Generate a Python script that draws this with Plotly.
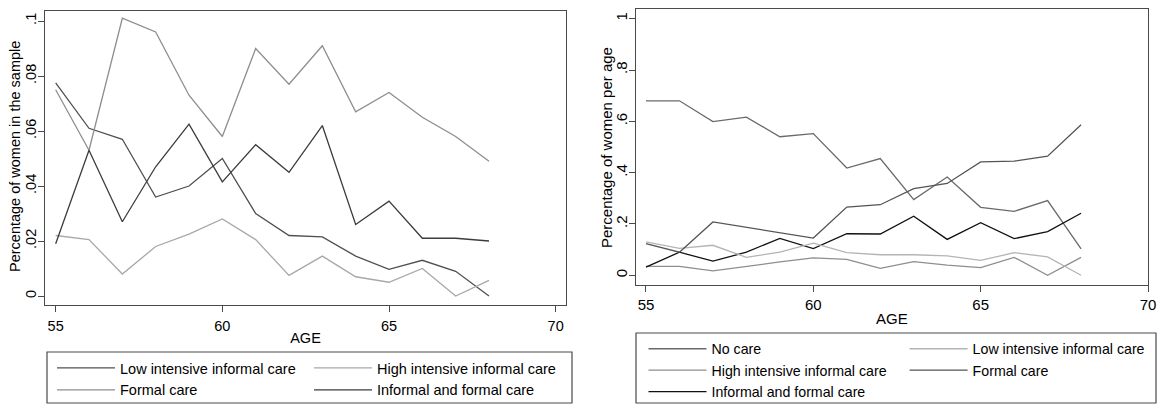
import plotly.graph_objects as go

# ---------------- data ----------------
ages = [55, 56, 57, 58, 59, 60, 61, 62, 63, 64, 65, 66, 67, 68]

# Left panel: percentage of women in the sample
left_low_informal = [0.0775, 0.061, 0.057, 0.036, 0.040, 0.050, 0.030, 0.022, 0.0215, 0.0145, 0.0097, 0.013, 0.009, 0.0]
left_high_informal = [0.022, 0.0205, 0.008, 0.018, 0.0225, 0.028, 0.0205, 0.0075, 0.0145, 0.007, 0.005, 0.010, 0.0, 0.0057]
left_formal = [0.075, 0.053, 0.101, 0.096, 0.073, 0.058, 0.090, 0.077, 0.091, 0.067, 0.074, 0.065, 0.058, 0.049]
left_inf_formal = [0.019, 0.053, 0.027, 0.047, 0.0625, 0.0415, 0.055, 0.045, 0.062, 0.026, 0.0345, 0.021, 0.021, 0.020]

# Right panel: percentage of women per age
right_no_care = [0.68, 0.68, 0.599, 0.616, 0.54, 0.552, 0.418, 0.455, 0.295, 0.383, 0.265, 0.249, 0.291, 0.103]
right_low_informal = [0.13, 0.105, 0.117, 0.07, 0.09, 0.125, 0.088, 0.08, 0.08, 0.076, 0.058, 0.088, 0.072, 0.0]
right_high_informal = [0.035, 0.035, 0.017, 0.035, 0.052, 0.068, 0.062, 0.027, 0.053, 0.04, 0.03, 0.07, 0.0, 0.07]
right_formal = [0.123, 0.09, 0.208, 0.187, 0.168, 0.145, 0.266, 0.275, 0.338, 0.358, 0.442, 0.445, 0.464, 0.587]
right_inf_formal = [0.032, 0.09, 0.055, 0.09, 0.144, 0.104, 0.162, 0.161, 0.23, 0.14, 0.205, 0.143, 0.17, 0.242]

x_ticks = [55, 60, 65, 70]
left_y_ticks = [0, 0.02, 0.04, 0.06, 0.08, 0.1]
left_y_labels = ["0", ".02", ".04", ".06", ".08", ".1"]
right_y_ticks = [0, 0.2, 0.4, 0.6, 0.8, 1]
right_y_labels = ["0", ".2", ".4", ".6", ".8", "1"]

x_title = "AGE"
left_y_title = "Percentage of women in the sample"
right_y_title = "Percentage of women per age"

# ---------------- layout helpers ----------------
W, H = 1157, 404
FONT = "Liberation Sans, Arial, sans-serif"
FS_L = 14.5
FS_R = 15


def fx(p):
    return p / W


def fy(p):
    return 1 - p / H


fig = go.Figure()


def add(y, name, color, xa, ya, legend):
    fig.add_trace(go.Scatter(
        x=ages, y=y, name=name, mode="lines",
        line=dict(color=color, width=1.3),
        xaxis=xa, yaxis=ya, legend=legend,
    ))


# left panel traces (two legend columns)
add(left_low_informal, "Low intensive informal care", "#505050", "x", "y", "legend")
add(left_formal, "Formal care", "#8e8e8e", "x", "y", "legend")
add(left_high_informal, "High intensive informal care", "#a8a8a8", "x", "y", "legend2")
add(left_inf_formal, "Informal and formal care", "#3c3c3c", "x", "y", "legend2")

# right panel traces
add(right_no_care, "No care", "#6a6a6a", "x2", "y2", "legend3")
add(right_high_informal, "High intensive informal care", "#8e8e8e", "x2", "y2", "legend3")
add(right_inf_formal, "Informal and formal care", "#111111", "x2", "y2", "legend3")
add(right_low_informal, "Low intensive informal care", "#b4b4b4", "x2", "y2", "legend4")
add(right_formal, "Formal care", "#555555", "x2", "y2", "legend4")


def axis(fs, **kw):
    d = dict(
        showgrid=False, zeroline=False, showline=True, mirror=True,
        linecolor="#4a4a4a", linewidth=1.2,
        ticks="outside", ticklen=6, tickcolor="#4a4a4a", tickwidth=1.2,
        tickfont=dict(family=FONT, size=fs, color="#000"),
        automargin=False,
    )
    d.update(kw)
    return d


def leg(fs, **kw):
    d = dict(
        orientation="v", xanchor="left", yanchor="top",
        bgcolor="rgba(0,0,0,0)", borderwidth=0,
        font=dict(family=FONT, size=fs, color="#000"),
        itemwidth=58, tracegroupgap=0,
    )
    d.update(kw)
    return d


fig.update_layout(
    width=W, height=H,
    margin=dict(l=0, r=0, t=0, b=0, autoexpand=False),
    paper_bgcolor="white", plot_bgcolor="white",
    showlegend=True,
    xaxis=axis(FS_L, domain=[fx(45), fx(566)], range=[54.68, 70.31],
               tickvals=x_ticks, anchor="y", ticklabelstandoff=1,
               title=dict(text=x_title, font=dict(family=FONT, size=FS_L, color="#000"), standoff=0)),
    yaxis=axis(FS_L, domain=[fy(305), fy(10.7)], range=[-0.00327, 0.10375],
               tickvals=left_y_ticks, ticktext=left_y_labels, tickangle=-90, anchor="x",
               ticklabelstandoff=-4),
    xaxis2=axis(FS_R, domain=[fx(635.6), fx(1148)], range=[54.69, 70.0],
                tickvals=x_ticks, anchor="y2", ticklabelstandoff=0,
                title=dict(text=x_title, font=dict(family=FONT, size=FS_R, color="#000"), standoff=1)),
    yaxis2=axis(FS_R, domain=[fy(285), fy(9.3)], range=[-0.0378, 1.0366],
                tickvals=right_y_ticks, ticktext=right_y_labels, tickangle=-90, anchor="x2",
                ticklabelstandoff=-4),
    legend=leg(14.5, x=fx(52), y=fy(352)),
    legend2=leg(14.5, x=fx(309), y=fy(352)),
    legend3=leg(14.2, x=fx(643.5), y=fy(333)),
    legend4=leg(14.2, x=fx(904.6), y=fy(333)),
    annotations=[
        dict(text=left_y_title, xref="paper", yref="paper", x=fx(15), y=fy(157),
             xanchor="center", yanchor="middle", textangle=-90, showarrow=False,
             font=dict(family=FONT, size=FS_L, color="#000")),
        dict(text=right_y_title, xref="paper", yref="paper", x=fx(606), y=fy(148),
             xanchor="center", yanchor="middle", textangle=-90, showarrow=False,
             font=dict(family=FONT, size=FS_R, color="#000")),
    ],
    shapes=[
        dict(type="rect", xref="paper", yref="paper", x0=fx(47), x1=fx(572), y0=fy(403), y1=fy(352),
             line=dict(color="#4a4a4a", width=1.2)),
        dict(type="rect", xref="paper", yref="paper", x0=fx(636), x1=fx(1156), y0=fy(403), y1=fy(333),
             line=dict(color="#4a4a4a", width=1.2)),
    ],
)

fig.write_html("out.html")
